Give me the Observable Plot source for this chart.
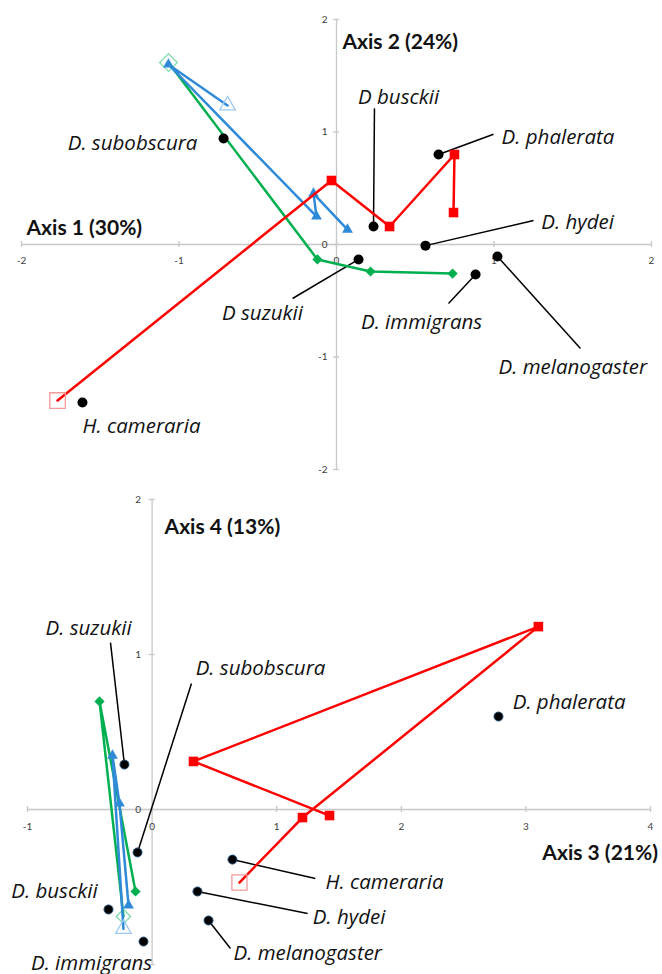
<!DOCTYPE html>
<html><head><meta charset="utf-8">
<script src="https://cdn.jsdelivr.net/npm/d3@7"></script>
<script src="https://cdn.jsdelivr.net/npm/@observablehq/plot@0.6"></script>
<style>
body{margin:0;background:#fff;}
#chart{width:662px;}
#chart svg{display:block;}
</style></head><body><div id="chart"></div>
<script>
// ---------- Panel 1: Axis 1 vs Axis 2 ----------
const speciesTop = ["D. subobscura","D busckii","D. phalerata","D. hydei","D suzukii","D. immigrans","D. melanogaster","H. cameraria"];
const axis1 = [-0.717, 0.235, 0.648, 0.565, 0.14, 0.883, 1.022, -1.613];
const axis2 = [0.942, 0.16, 0.80, -0.01, -0.133, -0.267, -0.107, -1.404];
const labelTopX = [-1.295, 0.394, 1.048, 1.30, -0.47, 0.54, 1.50, -1.238];
const labelTopY = [0.90, 1.31, 0.95, 0.196, -0.61, -0.69, -1.09, -1.62];
const anchorTop = ["middle","middle","start","start","middle","middle","middle","middle"];
const leaderTopX = [null, 0.241, 0.997, 1.251, -0.279, 0.711, 1.549, null];
const leaderTopY = [null, 1.21, 0.98, 0.213, -0.48, -0.524, -0.924, null];

const redTopX = [-1.771, -0.032, 0.337, 0.749, 0.743];
const redTopY = [-1.387, 0.569, 0.16, 0.80, 0.284];
const greenTopX = [-1.067, -0.121, 0.216, 0.737];
const greenTopY = [1.618, -0.133, -0.24, -0.258];
const blueTopX = [-0.692, -1.067, -0.127, -0.146, 0.070];
const blueTopY = [1.236, 1.60, 0.249, 0.453, 0.133];

const ticksTopX = [-2, -1, 0, 1, 2];
const ticksTopY = [-2, -1, 0, 1, 2];
const titleTop = [{t: "Axis 1 (30%)", x: -1.968, y: 0.142}, {t: "Axis 2 (24%)", x: 0.038, y: 1.80}];

// ---------- Panel 2: Axis 3 vs Axis 4 ----------
const speciesBot = ["D. suzukii","D. subobscura","D. busckii","D. immigrans","H. cameraria","D. hydei","D. melanogaster","D. phalerata"];
const axis3 = [-0.222, -0.117, -0.35, -0.069, 0.645, 0.364, 0.453, 2.78];
const axis4 = [0.29, -0.277, -0.645, -0.852, -0.323, -0.529, -0.716, 0.60];
const labelBotX = [-0.51, 0.87, -1.13, -0.486, 1.392, 1.29, 0.653, 2.894];
const labelBotY = [1.168, 0.91, -0.53, -0.99, -0.471, -0.697, -0.929, 0.69];
const anchorBot = ["middle","middle","start","middle","start","start","start","start"];
const leaderBotX = [-0.334, 0.316, null, null, 1.31, 1.248, 0.629, null];
const leaderBotY = [1.077, 0.813, null, null, -0.445, -0.671, -0.897, null];

const redBotX = [0.701, 1.207, 3.10, 0.332, 1.424];
const redBotY = [-0.471, -0.052, 1.18, 0.31, -0.039];
const greenBotX = [-0.23, -0.422, -0.133];
const greenBotY = [-0.69, 0.697, -0.529];
const blueBotX = [-0.23, -0.318, -0.262, -0.189];
const blueBotY = [-0.77, 0.348, 0.039, -0.619];

const ticksBotX = [-1, 0, 1, 2, 3, 4];
const ticksBotY = [0, 1, 2];
const titleBot = [{t: "Axis 4 (13%)", x: 0.10, y: 1.82, a: "start"}, {t: "Axis 3 (21%)", x: 4.06, y: -0.284, a: "end"}];

const RED = "#ff0000", GREEN = "#00b050", BLUE = "#2f8ad8";
const RED_L = "#f29a9a", GREEN_L = "#7fdcaa", BLUE_L = "#9ccaf2";
const FONT = "'Open Sans', Lato, sans-serif";
const TFONT = "Lato, 'Open Sans', sans-serif";
const AXIS = "#c8c8c8", TICKTXT = "#404040";
const LABEL_FS = 20.5, TITLE_FS = 21;

function series(xs, ys, color, light, symbol, r, rOpen) {
  const idx = d3.range(xs.length);
  return [
    Plot.line(idx, {x: i => xs[i], y: i => ys[i], stroke: color, strokeWidth: 2.5}),
    Plot.dot(idx.slice(1), {x: i => xs[i], y: i => ys[i], symbol, r, fill: color, stroke: "none"}),
    Plot.dot([0], {x: i => xs[i], y: i => ys[i], symbol, r: rOpen, fill: "none", stroke: light, strokeWidth: 1.3})
  ];
}

function axes(tx, ty, xLabelDy, yLabelDx, skipYLabels) {
  return [
    Plot.ruleY([0], {stroke: AXIS, strokeWidth: 1.3}),
    Plot.ruleX([0], {stroke: AXIS, strokeWidth: 1.3}),
    Plot.ruleX(tx, {x: d => d, y1: 0, y2: 0, insetTop: -3, insetBottom: -3, stroke: AXIS, strokeWidth: 1.3}),
    Plot.ruleY(ty, {y: d => d, x1: 0, x2: 0, insetLeft: -3, insetRight: -3, stroke: AXIS, strokeWidth: 1.3}),
    Plot.text(tx, {x: d => d, y: 0, text: d => String(d), dy: xLabelDy, fontSize: 10, fill: TICKTXT, fontFamily: TFONT}),
    Plot.text(ty.filter(d => !skipYLabels.includes(d)), {x: 0, y: d => d, text: d => String(d), dx: yLabelDx, textAnchor: "end", fontSize: 10, fill: TICKTXT, fontFamily: TFONT})
  ];
}

function labels(sx, sy, lx, ly, anchors, leadX, leadY, names, fs) {
  const idx = d3.range(names.length);
  return [
    Plot.link(idx.filter(i => leadX[i] != null), {x1: i => sx[i], y1: i => sy[i], x2: i => leadX[i], y2: i => leadY[i], stroke: "black", strokeWidth: 1.5}),
    Plot.text(idx.filter(i => anchors[i] === "middle"), {x: i => lx[i], y: i => ly[i], text: i => names[i], textAnchor: "middle", fontSize: fs, fontStyle: "italic", fontFamily: FONT, fill: "#111"}),
    Plot.text(idx.filter(i => anchors[i] === "start"), {x: i => lx[i], y: i => ly[i], text: i => names[i], textAnchor: "start", fontSize: fs, fontStyle: "italic", fontFamily: FONT, fill: "#111"})
  ];
}

const topPlot = Plot.plot({
  width: 662, height: 484,
  marginLeft: 21, marginRight: 11, marginTop: 19, marginBottom: 15,
  x: {domain: [-2, 2], axis: null},
  y: {domain: [-2, 2], axis: null},
  style: {background: "white", overflow: "visible"},
  marks: [
    ...axes(ticksTopX, ticksTopY, 16, -9, []),
    Plot.text(titleTop, {x: "x", y: "y", text: "t", textAnchor: "start", fontSize: TITLE_FS, fontWeight: "bold", fontFamily: TFONT, fill: "#111"}),
    ...labels(axis1, axis2, labelTopX, labelTopY, anchorTop, leaderTopX, leaderTopY, speciesTop, LABEL_FS),
    ...series(greenTopX, greenTopY, GREEN, GREEN_L, "diamond2", 4.6, 8),
    ...series(blueTopX, blueTopY, BLUE, BLUE_L, "triangle", 4, 5.8),
    ...series(redTopX, redTopY, RED, RED_L, "square", 5.4, 8.8),
    Plot.dot(d3.range(axis1.length), {x: i => axis1[i], y: i => axis2[i], r: 5, fill: "black"})
  ]
});

const bottomPlot = Plot.plot({
  width: 662, height: 490,
  marginLeft: 27, marginRight: 12, marginTop: 15, marginBottom: 10,
  x: {domain: [-1, 4], axis: null},
  y: {domain: [-1, 2], axis: null},
  style: {background: "white", overflow: "visible"},
  marks: [
    ...axes(ticksBotX, [-1, ...ticksBotY], 17, -11, [-1]),
    Plot.text(titleBot.filter(d => d.a === "start"), {x: "x", y: "y", text: "t", textAnchor: "start", fontSize: TITLE_FS, fontWeight: "bold", fontFamily: TFONT, fill: "#111"}),
    Plot.text(titleBot.filter(d => d.a === "end"), {x: "x", y: "y", text: "t", textAnchor: "end", fontSize: TITLE_FS, fontWeight: "bold", fontFamily: TFONT, fill: "#111"}),
    ...labels(axis3, axis4, labelBotX, labelBotY, anchorBot, leaderBotX, leaderBotY, speciesBot, LABEL_FS),
    ...series(greenBotX, greenBotY, GREEN, GREEN_L, "diamond2", 4.6, 6.5),
    ...series(blueBotX, blueBotY, BLUE, BLUE_L, "triangle", 4, 5.8),
    ...series(redBotX, redBotY, RED, RED_L, "square", 5.4, 8.5),
    Plot.dot(d3.range(axis3.length), {x: i => axis3[i], y: i => axis4[i], r: 4.5, fill: "black", stroke: "#1f4e79", strokeWidth: 1})
  ]
});

document.getElementById("chart").append(topPlot, bottomPlot);
</script>
</body></html>
